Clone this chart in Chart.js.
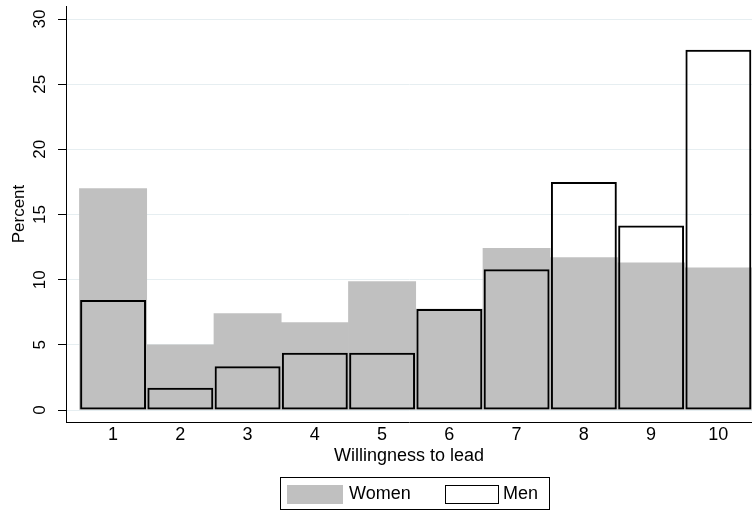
<!DOCTYPE html>
<html>
<head>
<meta charset="utf-8">
<title>Willingness to lead</title>
<script src="https://cdn.jsdelivr.net/npm/chart.js@4.4.1/dist/chart.umd.min.js"></script>
<style>
    html, body { margin: 0; padding: 0; background: #fff; }
</style>
</head>
<body>
<canvas id="leadChart" width="752" height="510"></canvas>
<script>
// values (percent of each group)
const categories = [1, 2, 3, 4, 5, 6, 7, 8, 9, 10];
const women = [17.0, 5.0, 7.4, 6.7, 9.85, 7.75, 12.4, 11.7, 11.3, 10.9];
const men = [8.45, 1.7, 3.35, 4.4, 4.4, 7.75, 10.8, 17.5, 14.15, 27.65];
const yTicks = [0, 5, 10, 15, 20, 25, 30];
const seriesNames = ['Women', 'Men'];

const fontFamily = "'Liberation Sans', Arial, sans-serif";
const womenGrey = '#c0c0c0';
const outline = '#000000';

// stata-like legend: framed box under the plot
const boxLegend = {
    id: 'boxLegend',
    afterDraw(chart) {
        const ctx = chart.ctx;
        const sets = chart.data.datasets;
        ctx.save();
        ctx.lineWidth = 1;
        ctx.strokeStyle = '#000';
        ctx.strokeRect(280.5, 477.5, 269, 32);

        ctx.fillStyle = sets[0].backgroundColor;
        ctx.fillRect(287, 485, 56, 19);

        ctx.fillStyle = '#fff';
        ctx.fillRect(445, 485, 54, 19);
        ctx.strokeRect(445.5, 485.5, 53, 18);

        ctx.fillStyle = '#000';
        ctx.font = '18px ' + fontFamily;
        ctx.textBaseline = 'middle';
        ctx.fillText(sets[0].label, 349, 494.5);
        ctx.fillText(sets[1].label, 503, 494.5);
        ctx.restore();
    }
};

const ctx = document.getElementById('leadChart').getContext('2d');
new Chart(ctx, {
    type: 'bar',
    data: {
        datasets: [{
            label: seriesNames[0],
            data: categories.map((c, i) => ({ x: c, y: women[i] })),
            backgroundColor: womenGrey,
            borderWidth: 0,
            barPercentage: 1,
            categoryPercentage: 1,
            grouped: false,
            order: 1
        }, {
            label: seriesNames[1],
            data: categories.map((c, i) => ({ x: c, y: men[i] })),
            backgroundColor: 'rgba(0, 0, 0, 0)',
            borderColor: outline,
            borderWidth: 2,
            borderSkipped: false,
            barPercentage: 0.98,
            categoryPercentage: 1,
            grouped: false,
            order: 0
        }]
    },
    options: {
        responsive: false,
        animation: false,
        layout: { padding: { top: 6, bottom: 40, left: 0, right: 0 } },
        plugins: {
            legend: { display: false },
            tooltip: { enabled: false }
        },
        scales: {
            x: {
                type: 'linear',
                min: 0.3,
                max: 10.5,
                offset: false,
                afterBuildTicks: s => { s.ticks = categories.map(v => ({ value: v })); },
                afterFit: s => { s.height = 48; s.paddingLeft = 0; s.paddingRight = 0; },
                ticks: {
                    autoSkip: false,
                    maxRotation: 0,
                    padding: 2,
                    color: '#000',
                    font: { family: fontFamily, size: 18 }
                },
                grid: { display: true, drawOnChartArea: false, drawTicks: false },
                border: { display: true, color: '#000', width: 1 },
                title: {
                    display: true,
                    text: 'Willingness to lead',
                    color: '#000',
                    font: { family: fontFamily, size: 18 },
                    padding: { top: 0, bottom: 3 }
                }
            },
            y: {
                min: -0.92,
                max: 31,
                afterBuildTicks: s => { s.ticks = yTicks.map(v => ({ value: v })); },
                afterFit: s => { s.width = 66; s.paddingTop = 0; s.paddingBottom = 0; },
                ticks: {
                    autoSkip: false,
                    minRotation: 90,
                    maxRotation: 90,
                    crossAlign: 'center',
                    padding: 8,
                    color: '#000',
                    font: { family: fontFamily, size: 17 }
                },
                grid: { color: '#e6eef1', tickColor: '#000', tickLength: 8, lineWidth: 1 },
                border: { display: true, color: '#000', width: 1 },
                title: {
                    display: true,
                    text: 'Percent',
                    color: '#000',
                    font: { family: fontFamily, size: 17 },
                    padding: { top: 9, bottom: 0 }
                }
            }
        }
    },
    plugins: [boxLegend]
});
</script>
</body>
</html>
